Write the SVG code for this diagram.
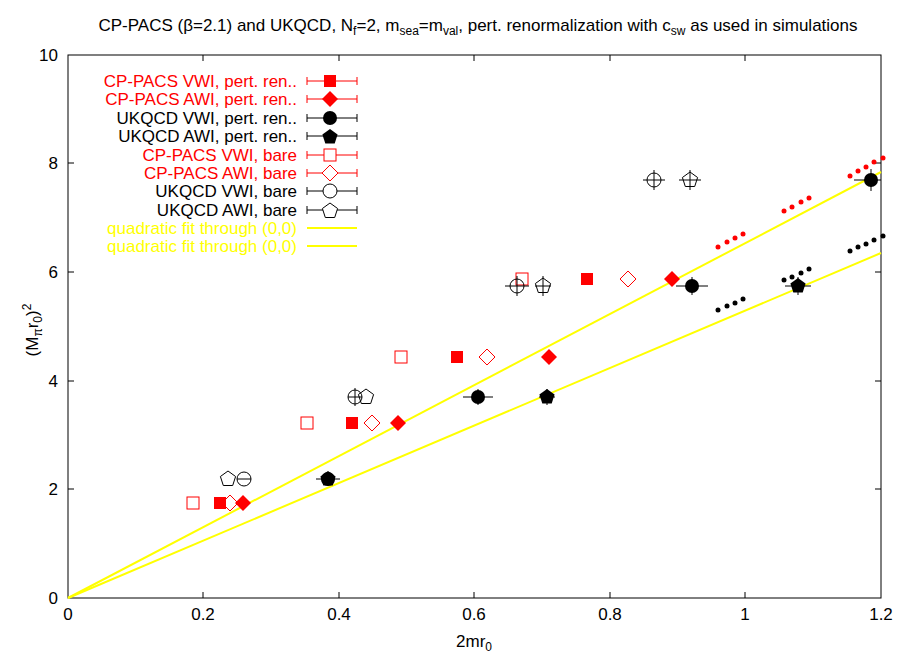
<svg xmlns="http://www.w3.org/2000/svg" width="913" height="654" viewBox="0 0 913 654">
<style>
text{font-family:"Liberation Sans",Arial,sans-serif;font-size:17px}
.r{fill:#f00}.k{fill:#000}.y{fill:#ff0}
.eb{stroke-width:1;fill:none}
.rs{stroke:#f00}.ks{stroke:#000}
.fit{stroke:#ff0;stroke-width:2;fill:none}
.ax{stroke:#000;stroke-width:1;fill:none}
</style>
<defs>
<rect id="sq" x="-6" y="-6" width="12" height="12"/>
<path id="dm" d="M0,-8L8,0L0,8L-8,0Z"/>
<circle id="ci" r="7"/>
<path id="pe" d="M0,-8L7.6,-2.5L4.7,6.5L-4.7,6.5L-7.6,-2.5Z"/>
</defs>
<rect width="913" height="654" fill="#fff"/>
<text x="478" y="31" text-anchor="middle" font-size="17.5">CP-PACS (β=2.1) and UKQCD, N<tspan font-size="12" dy="4">f</tspan><tspan dy="-4">=2, m</tspan><tspan font-size="12" dy="4">sea</tspan><tspan dy="-4">=m</tspan><tspan font-size="12" dy="4">val</tspan><tspan dy="-4">, pert. renormalization with c</tspan><tspan font-size="12" dy="4">sw</tspan><tspan dy="-4"> as used in simulations</tspan></text>
<g id="axes">
<rect class="ax" x="68" y="55" width="813" height="543"/>
<path class="ax" d="M203,598v-6M339,598v-6M474,598v-6M610,598v-6M745,598v-6M203,55v6M339,55v6M474,55v6M610,55v6M745,55v6M68,489h6M68,381h6M68,272h6M68,163h6M881,489h-6M881,381h-6M881,272h-6M881,163h-6"/>
<g text-anchor="middle">
<text x="68" y="620">0</text><text x="203" y="620">0.2</text><text x="339" y="620">0.4</text><text x="474" y="620">0.6</text><text x="610" y="620">0.8</text><text x="745" y="620">1</text><text x="881" y="620">1.2</text>
<text x="474" y="647">2mr<tspan font-size="12" dy="4">0</tspan></text>
</g>
<g text-anchor="end">
<text x="58" y="604">0</text><text x="58" y="495">2</text><text x="58" y="387">4</text><text x="58" y="278">6</text><text x="58" y="169">8</text><text x="58" y="61">10</text>
</g>
<text transform="translate(38,330) rotate(-90)" text-anchor="middle">(M<tspan font-size="12" dy="4">π</tspan><tspan dy="-4">r</tspan><tspan font-size="12" dy="4">0</tspan><tspan dy="-4">)</tspan><tspan font-size="12" dy="-7">2</tspan></text>
</g>
<g id="connectors">
<path class="fit" d="M68,598L881,172"/>
<path class="fit" d="M68,598L881,253"/>
</g>
<g id="dots">
<g class="r"><circle cx="718" cy="247" r="2.5"/><circle cx="727" cy="242" r="2.5"/><circle cx="735" cy="238" r="2.5"/><circle cx="743" cy="234" r="2.5"/><circle cx="784" cy="211" r="2.5"/><circle cx="792" cy="207" r="2.5"/><circle cx="801" cy="202" r="2.5"/><circle cx="809" cy="198" r="2.5"/><circle cx="850" cy="176" r="2.5"/><circle cx="858" cy="171" r="2.5"/><circle cx="866" cy="167" r="2.5"/><circle cx="874" cy="162" r="2.5"/><circle cx="883" cy="158" r="2.5"/></g>
<g class="k"><circle cx="718" cy="310" r="2.5"/><circle cx="727" cy="306" r="2.5"/><circle cx="735" cy="303" r="2.5"/><circle cx="743" cy="299" r="2.5"/><circle cx="784" cy="280" r="2.5"/><circle cx="792" cy="277" r="2.5"/><circle cx="801" cy="273" r="2.5"/><circle cx="809" cy="269" r="2.5"/><circle cx="850" cy="251" r="2.5"/><circle cx="858" cy="247" r="2.5"/><circle cx="866" cy="244" r="2.5"/><circle cx="874" cy="240" r="2.5"/><circle cx="883" cy="236" r="2.5"/></g>
</g>
<g id="cp-vwi-bare" fill="none" stroke="#f00">
<use href="#sq" x="193" y="503"/><use href="#sq" x="307" y="423"/><use href="#sq" x="401" y="357"/><use href="#sq" x="522" y="279"/>
</g>
<g id="cp-awi-bare" fill="none" stroke="#f00">
<use href="#dm" x="230" y="503"/><use href="#dm" x="372" y="423"/><use href="#dm" x="487" y="357"/><use href="#dm" x="628" y="279"/>
</g>
<g id="uk-vwi-bare" fill="none" stroke="#000">
<use href="#ci" x="244" y="479"/><use href="#ci" x="355" y="397"/><use href="#ci" x="517" y="286"/><use href="#ci" x="654" y="180"/>
<path d="M237,479h14M348,397h14M505,286h24M643,180h22M654,170v20M517,276v20M355,388v18"/>
</g>
<g id="uk-awi-bare" fill="none" stroke="#000">
<use href="#pe" x="228" y="479"/><use href="#pe" x="366" y="397"/><use href="#pe" x="543" y="286"/><use href="#pe" x="690" y="180"/>
<path d="M679,180h22M690,170v20M543,276v20M535,286h16"/>
</g>
<g id="cp-vwi-pert" fill="#f00">
<use href="#sq" x="220" y="503"/><use href="#sq" x="352" y="423"/><use href="#sq" x="457" y="357"/><use href="#sq" x="587" y="279"/>
</g>
<g id="cp-awi-pert" fill="#f00">
<use href="#dm" x="243" y="503"/><use href="#dm" x="398" y="423"/><use href="#dm" x="549" y="357"/><use href="#dm" x="672" y="279"/>
</g>
<g id="uk-vwi-pert" fill="#000">
<use href="#ci" x="328" y="479"/><use href="#ci" x="478" y="397"/><use href="#ci" x="692" y="286"/><use href="#ci" x="871" y="180"/>
<path class="eb ks" d="M463,397h30M676,286h32M854,180h27M871,169v22M478,389v16M692,277v18"/>
</g>
<g id="uk-awi-pert" fill="#000">
<use href="#pe" x="328" y="479"/><use href="#pe" x="547" y="397"/><use href="#pe" x="798" y="286"/>
<path class="eb ks" d="M316,479h24M539,397h16M785,286h26M798,277v18M547,389v16"/>
</g>
<g id="legend" text-anchor="end">
<text class="r" x="297" y="87">CP-PACS VWI, pert. ren..</text>
<text class="r" x="297" y="105">CP-PACS AWI, pert. ren..</text>
<text class="k" x="297" y="124">UKQCD VWI, pert. ren..</text>
<text class="k" x="297" y="142">UKQCD AWI, pert. ren..</text>
<text class="r" x="297" y="161">CP-PACS VWI, bare</text>
<text class="r" x="297" y="179">CP-PACS AWI, bare</text>
<text class="k" x="297" y="197">UKQCD VWI, bare</text>
<text class="k" x="297" y="216">UKQCD AWI, bare</text>
<text class="y" x="297" y="234">quadratic fit through (0,0)</text>
<text class="y" x="297" y="252">quadratic fit through (0,0)</text>
<path class="eb rs" d="M307,81h50M307,77v8M357,77v8M307,99h50M307,95v8M357,95v8M307,155h50M307,151v8M357,151v8M307,173h50M307,169v8M357,169v8"/>
<path class="eb ks" d="M307,118h50M307,114v8M357,114v8M307,136h50M307,132v8M357,132v8M307,191h50M307,187v8M357,187v8M307,210h50M307,206v8M357,206v8"/>
<path class="fit" d="M307,228h50M307,246h50"/>
<use href="#sq" x="330" y="81" fill="#f00"/>
<use href="#dm" x="330" y="99" fill="#f00"/>
<use href="#ci" x="330" y="118" fill="#000"/>
<use href="#pe" x="330" y="137" fill="#000"/>
<use href="#sq" x="330" y="155" fill="#fff" stroke="#f00"/>
<use href="#dm" x="330" y="173" fill="#fff" stroke="#f00"/>
<use href="#ci" x="330" y="191" fill="#fff" stroke="#000"/>
<use href="#pe" x="330" y="211" fill="#fff" stroke="#000"/>
</g>
</svg>
